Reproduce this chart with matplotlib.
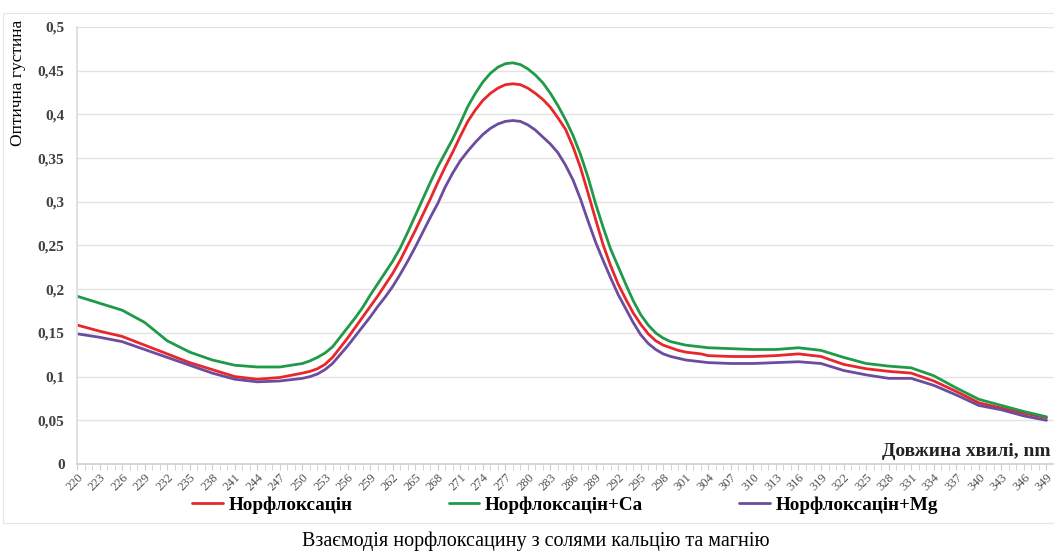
import matplotlib
matplotlib.use("Agg")
import matplotlib.pyplot as plt
from matplotlib.ticker import FixedLocator, MultipleLocator, FuncFormatter
from matplotlib.patches import Rectangle

# wavelengths, nm (read denser around the absorption band)
wl = list(range(220, 250, 3)) + list(range(250, 305)) + list(range(307, 350, 3))

norf = [0.159, 0.152, 0.146, 0.136, 0.126, 0.116, 0.108, 0.100, 0.097, 0.099,
        0.104, 0.106, 0.109, 0.114, 0.122, 0.133, 0.144, 0.156, 0.168, 0.180,
        0.192, 0.205, 0.218, 0.233, 0.250, 0.267, 0.285, 0.303, 0.322, 0.340,
        0.357, 0.375, 0.392, 0.405, 0.416, 0.424, 0.430, 0.434, 0.435, 0.434,
        0.430, 0.424, 0.417, 0.408, 0.396, 0.383, 0.363, 0.339, 0.310, 0.280,
        0.251, 0.227, 0.206, 0.189, 0.173, 0.160, 0.149, 0.141, 0.136, 0.133,
        0.130, 0.128, 0.127, 0.126, 0.124,
        0.123, 0.123, 0.124, 0.126, 0.123, 0.114, 0.109, 0.106, 0.104, 0.095,
        0.083, 0.070, 0.064, 0.058, 0.053]

norf_ca = [0.192, 0.184, 0.176, 0.162, 0.141, 0.128, 0.119, 0.113, 0.111, 0.111,
           0.115, 0.118, 0.122, 0.127, 0.134, 0.145, 0.156, 0.167, 0.179, 0.193,
           0.206, 0.219, 0.232, 0.247, 0.265, 0.284, 0.303, 0.322, 0.340, 0.356,
           0.372, 0.390, 0.409, 0.424, 0.437, 0.447, 0.454, 0.458, 0.459, 0.457,
           0.452, 0.445, 0.436, 0.424, 0.410, 0.394, 0.376, 0.354, 0.328, 0.298,
           0.271, 0.246, 0.226, 0.206, 0.187, 0.171, 0.159, 0.150, 0.144, 0.140,
           0.138, 0.136, 0.135, 0.134, 0.133,
           0.132, 0.131, 0.131, 0.133, 0.130, 0.122, 0.115, 0.112, 0.110, 0.101,
           0.087, 0.074, 0.067, 0.060, 0.054]

norf_mg = [0.149, 0.145, 0.140, 0.131, 0.122, 0.113, 0.104, 0.097, 0.094, 0.095,
           0.098, 0.100, 0.103, 0.108, 0.115, 0.125, 0.135, 0.146, 0.157, 0.168,
           0.180, 0.191, 0.203, 0.217, 0.232, 0.248, 0.265, 0.282, 0.298, 0.317,
           0.333, 0.347, 0.358, 0.368, 0.377, 0.384, 0.389, 0.392, 0.393, 0.392,
           0.388, 0.382, 0.374, 0.366, 0.356, 0.342, 0.325, 0.303, 0.278, 0.254,
           0.233, 0.213, 0.194, 0.178, 0.162, 0.148, 0.138, 0.131, 0.126, 0.123,
           0.121, 0.119, 0.118, 0.117, 0.116,
           0.115, 0.115, 0.116, 0.117, 0.115, 0.107, 0.102, 0.098, 0.098, 0.090,
           0.079, 0.067, 0.062, 0.055, 0.050]

labels = ["Норфлоксацін", "Норфлоксацін+Ca", "Норфлоксацін+Mg"]
colors = ["#e8272b", "#1f9a48", "#6b4c9e"]
xticks = list(range(220, 350, 3))

W, H = 1054, 552
fig = plt.figure(figsize=(W / 100, H / 100), dpi=100)
ax = fig.add_axes([77 / W, 1 - 464 / H, 1 - 77 / W, 437 / H])

# faint chart frame
fig.patches.append(Rectangle((3 / W, 1 - 523 / H), 1.0, 510 / H,
                             transform=fig.transFigure, fill=False,
                             edgecolor="#e6e6e6", lw=0.8))

for series, lab, col in zip([norf, norf_ca, norf_mg], labels, colors):
    ax.plot(wl, series, color=col, lw=2.0, label=lab,
            solid_capstyle="round", solid_joinstyle="round")

ax.set_xlim(220, 350)
ax.set_ylim(0, 0.5)
ax.yaxis.set_major_locator(MultipleLocator(0.05))
ax.yaxis.set_major_formatter(FuncFormatter(lambda v, p: ("%g" % round(v, 2)).replace(".", ",")))
ax.xaxis.set_major_locator(FixedLocator(xticks))
ax.xaxis.set_minor_locator(MultipleLocator(1))

ax.grid(axis="y", color="#e3e3e3", lw=1.0)
ax.set_axisbelow(True)
for s in ["top", "right"]:
    ax.spines[s].set_visible(False)
ax.spines["left"].set_color("#dcdcdc")
ax.spines["bottom"].set_color("#cfcfcf")
ax.spines["left"].set_linewidth(1.2)
ax.spines["bottom"].set_linewidth(1.2)

ax.tick_params(axis="y", length=0, pad=9, labelsize=11, labelcolor="#404040")
ax.tick_params(axis="x", which="both", direction="out", color="#cfcfcf",
               length=4, labelsize=9, labelcolor="#505050", pad=1)
for t in ax.get_yticklabels():
    t.set_fontfamily("Liberation Serif")
    t.set_fontweight("bold")
for t in ax.get_xticklabels():
    t.set_fontfamily("Liberation Serif")
    t.set_rotation(45)
    t.set_ha("right")
    t.set_va("top")
    t.set_rotation_mode("anchor")

fig.text(18 / W, 1 - 83 / H, "Оптична густина", rotation=90, ha="center",
         va="center", fontsize=12.5, family="Liberation Serif")
fig.text(1051 / W, 1 - 451 / H, "Довжина хвилі, nm", ha="right", va="center",
         fontsize=14, family="Liberation Serif", fontweight="bold", color="#222222")

fig.legend(loc="center left", bbox_to_anchor=(175 / W, 1 - 505 / H), ncol=3,
           frameon=False, handlelength=1.6, handletextpad=0.3,
           columnspacing=5.0,
           prop={"family": "Liberation Serif", "weight": "bold", "size": 13.8})

fig.text(536 / W, 1 - 546 / H, "Взаємодія норфлоксацину з солями кальцію та магнію",
         ha="center", va="baseline", fontsize=14.5, family="Liberation Serif")

fig.savefig("out.png", dpi=100, facecolor="white")
